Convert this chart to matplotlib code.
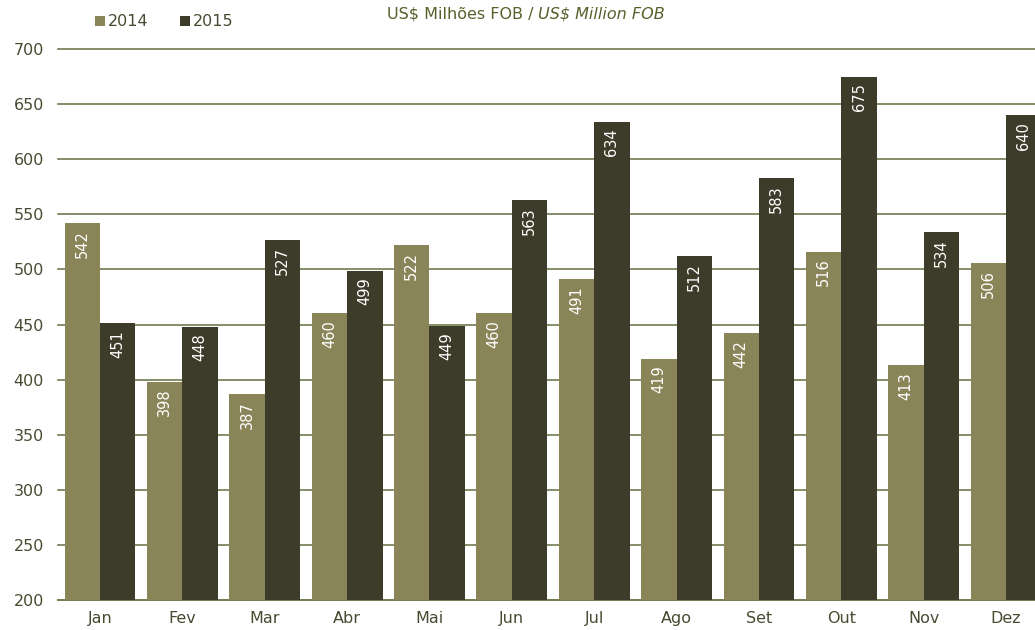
import numpy as np
import matplotlib.pyplot as plt

plt.rcParams['font.family'] = ['DejaVu Sans']

months = ["Jan", "Fev", "Mar", "Abr", "Mai", "Jun", "Jul", "Ago", "Set", "Out", "Nov", "Dez"]
v2014 = [542, 398, 387, 460, 522, 460, 491, 419, 442, 516, 413, 506]
v2015 = [451, 448, 527, 499, 449, 563, 634, 512, 583, 675, 534, 640]

c2014 = "#8a8558"
c2015 = "#3d3b29"
grid_c = "#6f7d4f"
txt_c = "#4a4a32"

fig = plt.figure(figsize=(10.35, 6.3), dpi=100)
ax = fig.add_axes([0.056, 0.0476, 0.944, 0.8746])

x = np.arange(len(months))
w = 0.43
b1 = ax.bar(x - w / 2, v2014, w, color=c2014, label="2014", zorder=3)
b2 = ax.bar(x + w / 2, v2015, w, color=c2015, label="2015", zorder=3)

for bars, vals in ((b1, v2014), (b2, v2015)):
    for r, v in zip(bars, vals):
        ax.annotate(str(v), (r.get_x() + r.get_width() / 2, v),
                    xytext=(0, -5), textcoords="offset points",
                    rotation=90, ha="center", va="top",
                    color="white", fontsize=10.5, zorder=4)

ax.set_ylim(200, 700)
ax.set_yticks(range(200, 701, 50))
ax.set_xlim(-0.51, 11.35)
ax.set_xticks(x)
ax.set_xticklabels(months)
ax.yaxis.grid(True, color=grid_c, lw=1.2, zorder=0)
for gl in ax.yaxis.get_gridlines():
    gl.set_clip_on(False)
ax.set_axisbelow(True)
for s in ("top", "right", "left"):
    ax.spines[s].set_visible(False)
ax.spines["bottom"].set_color(grid_c)
ax.spines["bottom"].set_linewidth(1.2)
ax.tick_params(length=0, labelsize=11.5, colors=txt_c)
ax.tick_params(axis="y", pad=10)
ax.tick_params(axis="x", pad=8)

fig.legend(loc="upper left", bbox_to_anchor=(0.078, 1.0), ncol=2, frameon=False,
           handlelength=0.6, handleheight=0.6, handletextpad=0.2, columnspacing=2.0,
           fontsize=11.5, labelcolor=txt_c)

fig.text(0.52, 0.977, "US$ Milhões FOB / ", ha="right", va="center",
         fontsize=11.5, color="#55602a")
fig.text(0.52, 0.977, "US$ Million FOB", ha="left", va="center",
         fontsize=11.5, color="#55602a", style="italic")

fig.savefig("out.png")
